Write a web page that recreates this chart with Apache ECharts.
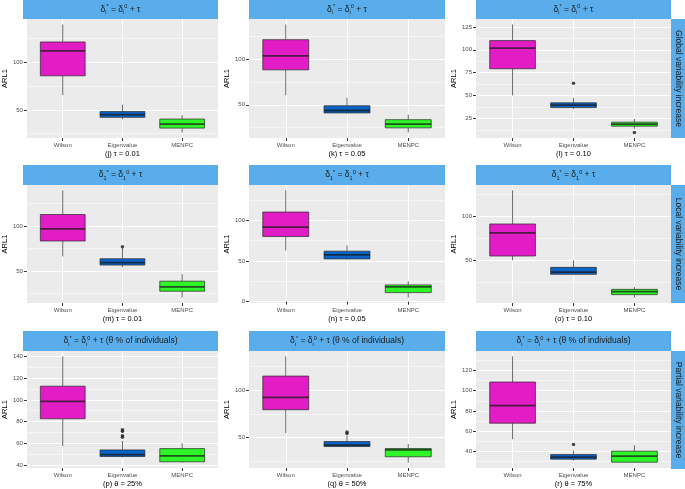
<!doctype html>
<html>
<head>
<meta charset="utf-8">
<title>ARL1 boxplots</title>
<script src="https://cdn.jsdelivr.net/npm/echarts@6/dist/echarts.min.js"></script>
<style>
html, body { margin: 0; padding: 0; background: #fff; }
#main { width: 685px; height: 489px; }
</style>
</head>
<body>
<div id="main"></div>
<script>
var methods = ['Wilson', 'Eigenvalue', 'MENPC'];
var boxColors = ['#E21DC6', '#0A64C8', '#2EF528'];

// [lower whisker, Q1, median, Q3, upper whisker] for Wilson, Eigenvalue, MENPC
var statsJ = [[65.6, 85.8, 112.0, 121.3, 139.7], [40.1, 42.2, 45.0, 48.2, 55.7], [26.2, 30.9, 35.1, 40.4, 44.7]];
var statsK = [[60.4, 88.4, 103.7, 121.6, 138.4], [40.5, 41.0, 43.7, 48.9, 57.8], [19.4, 24.6, 28.7, 33.6, 39.2]];
var statsL = [[50.2, 79.3, 101.8, 110.0, 127.7], [35.4, 36.9, 39.5, 42.1, 47.6], [13.7, 16.6, 18.8, 21.0, 24.4]];
var statsM = [[66.3, 83.3, 96.7, 112.6, 139.3], [54.4, 56.7, 59.3, 63.7, 75.5], [20.7, 27.8, 32.6, 38.9, 46.7]];
var statsN = [[63.0, 80.2, 91.8, 110.3, 137.0], [51.9, 52.6, 57.6, 62.1, 69.5], [4.9, 11.1, 18.1, 20.6, 25.1]];
var statsO = [[50.0, 54.9, 81.1, 91.3, 129.5], [34.1, 34.1, 36.7, 42.0, 50.0], [7.6, 11.0, 14.4, 17.0, 19.7]];
var statsP = [[57.5, 82.6, 98.6, 112.7, 140.3], [46.8, 47.7, 49.5, 53.8, 62.1], [42.0, 42.8, 48.3, 55.0, 60.0]];
var statsQ = [[54.8, 79.3, 92.1, 114.5, 135.2], [40.0, 40.7, 42.1, 45.9, 52.0], [23.8, 30.0, 37.2, 38.6, 43.4]];
var statsR = [[52.1, 67.9, 85.2, 108.5, 133.8], [31.1, 32.5, 34.4, 37.0, 41.0], [29.0, 29.5, 35.4, 40.3, 46.2]];

// outliers: [method position, value]
var outJ = [];
var outK = [];
var outL = [[2, 63.5], [3, 9.6]];
var outM = [[2, 77.0]];
var outN = [];
var outO = [];
var outP = [[2, 72.5], [2, 71.0], [2, 67.0], [2, 65.5]];
var outQ = [[2, 56.0], [2, 54.3]];
var outR = [[2, 46.9]];

var captions = ['(j) τ = 0.01', '(k) τ = 0.05', '(l) τ = 0.10',
                '(m) τ = 0.01', '(n) τ = 0.05', '(o) τ = 0.10',
                '(p) θ = 25%', '(q) θ = 50%', '(r) θ = 75%'];
var tickSteps = [50, 50, 25, 50, 50, 50, 20, 50, 20];
var rowLabels = ['Global variability increase', 'Local variability increase', 'Partial variability increase'];
var stripSubs = ['i', '1', 'i'];

var panelStats = [statsJ, statsK, statsL, statsM, statsN, statsO, statsP, statsQ, statsR];
var panelOut = [outJ, outK, outL, outM, outN, outO, outP, outQ, outR];

var colLeft = [23, 249, 476], colWidth = [195, 196, 195];
var rowTop = [19, 185, 351], rowHeight = [119, 118, 118], stripH = [19, 20, 20];
var font = 'Liberation Sans, Arial, sans-serif';

function renderBox(params, api) {
    var x = api.value(0);
    var lo = api.coord([x, api.value(1)]);
    var q1 = api.coord([x, api.value(2)]);
    var md = api.coord([x, api.value(3)]);
    var q3 = api.coord([x, api.value(4)]);
    var hi = api.coord([x, api.value(5)]);
    var half = api.size([0.75, 0])[0] / 2;
    return {
        type: 'group',
        children: [
            { type: 'line', shape: { x1: lo[0], y1: lo[1], x2: q1[0], y2: q1[1] }, style: { stroke: '#6b6b6b', lineWidth: 1 } },
            { type: 'line', shape: { x1: q3[0], y1: q3[1], x2: hi[0], y2: hi[1] }, style: { stroke: '#6b6b6b', lineWidth: 1 } },
            { type: 'rect', shape: { x: q1[0] - half, y: q3[1], width: half * 2, height: q1[1] - q3[1] },
              style: { fill: boxColors[x - 1], stroke: 'rgba(40,40,40,0.7)', lineWidth: 1 } },
            { type: 'line', shape: { x1: md[0] - half, y1: md[1], x2: md[0] + half, y2: md[1] },
              style: { stroke: 'rgba(25,25,25,0.75)', lineWidth: 1.8 } }
        ]
    };
}

var grids = [], xAxes = [], yAxes = [], series = [], graphics = [];

for (var i = 0; i < 9; i++) {
    var r = Math.floor(i / 3), c = i % 3;
    var st = panelStats[i], outs = panelOut[i];
    var vals = [];
    st.forEach(function (s) { vals = vals.concat(s); });
    outs.forEach(function (o) { vals.push(o[1]); });
    var lo = Math.min.apply(null, vals), hi = Math.max.apply(null, vals);
    var span = hi - lo;
    var yMin = lo - 0.05 * span, yMax = hi + 0.05 * span;
    var step = tickSteps[i];
    var yTicks = [];
    for (var t = Math.ceil(yMin / step) * step; t <= yMax; t += step) yTicks.push(t);

    grids.push({
        left: colLeft[c], top: rowTop[r], width: colWidth[c], height: rowHeight[r],
        show: true, backgroundColor: '#EBEBEB', borderWidth: 0
    });
    xAxes.push({
        gridIndex: i, type: 'value', min: 0.4, max: 3.6, minInterval: 1, maxInterval: 1,
        axisLine: { show: false },
        axisTick: { show: true, length: 3, customValues: [1, 2, 3], lineStyle: { color: '#333' } },
        axisLabel: {
            customValues: [1, 2, 3], margin: 4, fontSize: 6, color: '#4d4d4d', fontFamily: font,
            formatter: function (v) { return methods[Math.round(v) - 1] || ''; }
        },
        splitLine: { show: true, lineStyle: { color: '#fff', width: 1 } },
        name: captions[i], nameLocation: 'middle', nameGap: 12,
        nameTextStyle: { fontSize: 7.5, color: '#000', fontFamily: font }
    });
    yAxes.push({
        gridIndex: i, type: 'value', min: yMin, max: yMax, minInterval: step, maxInterval: step,
        axisLine: { show: false },
        axisTick: { show: true, length: 3, customValues: yTicks, lineStyle: { color: '#333' } },
        axisLabel: { customValues: yTicks, margin: 4, fontSize: 6, color: '#4d4d4d', fontFamily: font },
        splitLine: { show: true, lineStyle: { color: '#fff', width: 1 } },
        minorTick: { show: false, splitNumber: 2 },
        minorSplitLine: { show: true, lineStyle: { color: '#fff', width: 0.5 } },
        name: 'ARL1', nameLocation: 'middle', nameRotate: 90, nameGap: 14,
        nameTextStyle: { fontSize: 7.5, color: '#000', fontFamily: font }
    });
    series.push({
        type: 'custom', xAxisIndex: i, yAxisIndex: i, renderItem: renderBox,
        encode: { x: 0, y: [1, 2, 3, 4, 5] },
        data: st.map(function (s, k) { return [k + 1].concat(s); })
    });
    if (outs.length) {
        series.push({
            type: 'scatter', xAxisIndex: i, yAxisIndex: i, symbolSize: 3.5,
            itemStyle: { color: '#1a1a1a' }, data: outs
        });
    }

    // top strip
    var tail = r === 2 ? ' (θ % of individuals)' : '';
    graphics.push({
        type: 'rect', left: colLeft[c], top: rowTop[r] - stripH[r],
        shape: { width: colWidth[c], height: stripH[r] }, style: { fill: '#5AADEB' }
    });
    graphics.push({
        type: 'text', x: colLeft[c] + colWidth[c] / 2, y: rowTop[r] - stripH[r] / 2,
        style: {
            text: '{m|δ}{sb|' + stripSubs[r] + '}{sp|*}{m| = δ}{sb|' + stripSubs[r] + '}{sp|0}{m| + τ' + tail + '}',
            align: 'center', verticalAlign: 'middle',
            rich: {
                m: { fontSize: 8.5, lineHeight: 12, fill: '#1a1a1a', fontFamily: font },
                sp: { fontSize: 5.5, lineHeight: 7, verticalAlign: 'top', fill: '#1a1a1a', fontFamily: font },
                sb: { fontSize: 5.5, lineHeight: 7, verticalAlign: 'bottom', fill: '#1a1a1a', fontFamily: font }
            }
        }
    });
}

// right strips
for (var r2 = 0; r2 < 3; r2++) {
    graphics.push({
        type: 'rect', left: 671, top: rowTop[r2],
        shape: { width: 14, height: rowHeight[r2] }, style: { fill: '#5AADEB' }
    });
    graphics.push({
        type: 'text', x: 678, y: rowTop[r2] + rowHeight[r2] / 2, rotation: -Math.PI / 2,
        style: {
            text: rowLabels[r2], align: 'center', verticalAlign: 'middle',
            fontSize: 8.5, fill: '#1a1a1a', fontFamily: font
        }
    });
}

var myChart = echarts.init(document.getElementById('main'));
myChart.setOption({
    animation: false,
    backgroundColor: '#fff',
    grid: grids,
    xAxis: xAxes,
    yAxis: yAxes,
    series: series,
    graphic: graphics
});
</script>
</body>
</html>
